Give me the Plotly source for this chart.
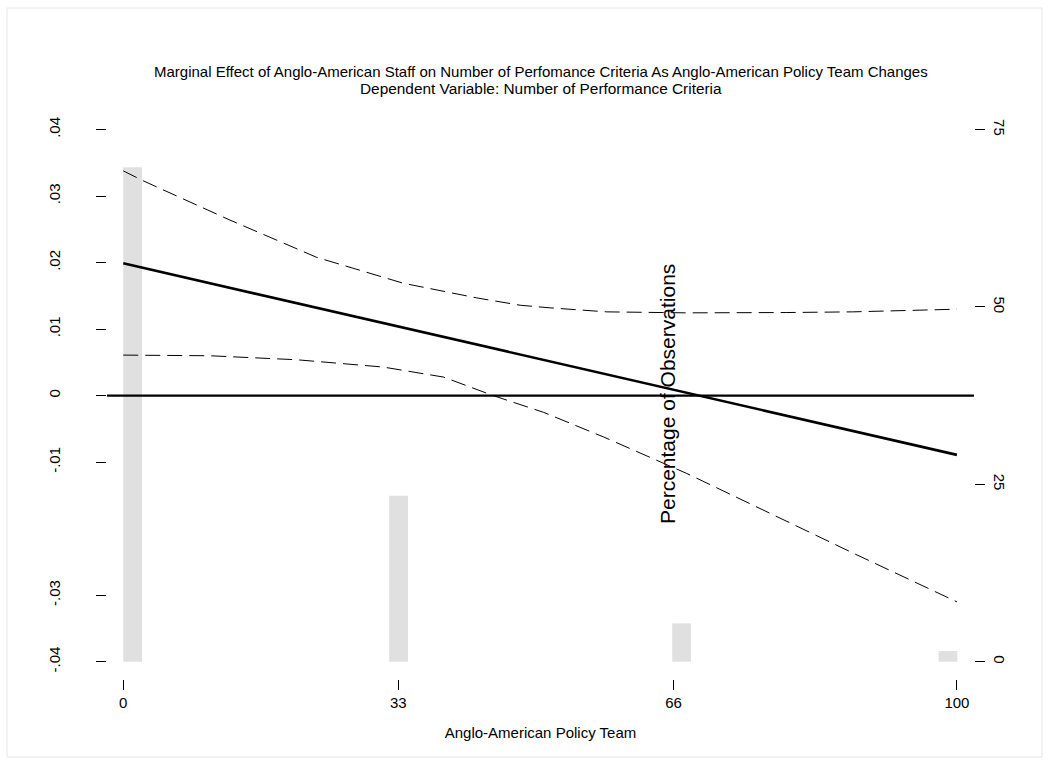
import plotly.graph_objects as go

# ---------------- data ----------------
title_text = "Marginal Effect of Anglo-American Staff on Number of Perfomance Criteria As Anglo-American Policy Team Changes"
subtitle_text = "Dependent Variable: Number of Performance Criteria"
x_title = "Anglo-American Policy Team"
right_title = "Percentage of Observations"

# histogram of observations (percent), bins start / width
bar_left = [0.0, 31.9, 65.85, 97.8]
bar_width = 2.25
bar_pct = [69.7, 23.4, 5.4, 1.5]

# marginal effect (solid line)
me_x = [0, 100]
me_y = [0.0199, -0.0089]

# upper 95% bound (dashed)
up_x = [0, 2.4, 12.8, 23.2, 33.6, 42.4, 47.6, 51.2, 58.0, 67.6, 79.6, 87.5, 100]
up_y = [0.0338, 0.0323, 0.0264, 0.0208, 0.0169, 0.0147, 0.0136, 0.0132, 0.0126, 0.01245, 0.0125, 0.0126, 0.0130]

# lower 95% bound (dashed)
lo_x = [0, 10.4, 20.8, 31.2, 38.4, 44.4, 50.4, 57.6, 67.6, 77.6, 87.6, 100]
lo_y = [0.0061, 0.0060, 0.0054, 0.0043, 0.0028, 0.0000, -0.0025, -0.0062, -0.0117, -0.0177, -0.0237, -0.0310]

x_ticks = [0, 33, 66, 100]
left_ticks = [-0.04, -0.03, -0.01, 0, 0.01, 0.02, 0.03, 0.04]
left_labels = ["-.04", "-.03", "-.01", "0", ".01", ".02", ".03", ".04"]
right_ticks = [0, 25, 50, 75]

# ---------------- figure ----------------
FONT = "Liberation Sans, Arial, sans-serif"
left_range = [-0.0426, 0.0425]
# right axis aligned so that 0 <-> -.04 and 75 <-> .04
right_range = [(v + 0.04) / 0.08 * 75 for v in left_range]

fig = go.Figure()

fig.add_trace(go.Bar(
    x=bar_left, y=bar_pct, width=bar_width, offset=0,
    marker=dict(color="#e0e0e0", line=dict(width=0)),
    yaxis="y", showlegend=False, hoverinfo="skip",
))

fig.add_trace(go.Scatter(
    x=up_x, y=up_y, mode="lines", yaxis="y2",
    line=dict(color="black", width=1, dash="15px,7px"),
    showlegend=False,
))
fig.add_trace(go.Scatter(
    x=lo_x, y=lo_y, mode="lines", yaxis="y2",
    line=dict(color="black", width=1, dash="15px,7px"),
    showlegend=False,
))
fig.add_trace(go.Scatter(
    x=me_x, y=me_y, mode="lines", yaxis="y2",
    line=dict(color="black", width=2.6),
    showlegend=False,
))

# zero reference line across the plot region
fig.add_shape(type="line", xref="x domain", yref="y2", x0=0, x1=1, y0=0, y1=0,
              line=dict(color="black", width=2.2))

# outer graph-region outline
fig.add_shape(type="rect", xref="paper", yref="paper",
              x0=(7 - 107) / 867, x1=(1042 - 107) / 867,
              y0=(679 - 757) / 566, y1=(679 - 8) / 566,
              line=dict(color="#e6e6e6", width=1), layer="below")

fig.add_annotation(text=title_text, xref="paper", yref="paper", x=0.5, y=(679 - 72) / 566,
                   showarrow=False, font=dict(family=FONT, size=15, color="black"),
                   xanchor="center", yanchor="middle")
fig.add_annotation(text=subtitle_text, xref="paper", yref="paper", x=0.5, y=(679 - 89) / 566,
                   showarrow=False, font=dict(family=FONT, size=15.4, color="black"),
                   xanchor="center", yanchor="middle")
fig.add_annotation(text=right_title, xref="paper", yref="paper",
                   x=(667 - 107) / 867, y=(679 - 394) / 566, textangle=-90,
                   showarrow=False, font=dict(family=FONT, size=21, color="black"),
                   xanchor="center", yanchor="middle")

axis_common = dict(showgrid=False, zeroline=False, showline=False, automargin=False,
                   ticks="outside", ticklen=10, tickwidth=1, tickcolor="black",
                   tickfont=dict(family=FONT, size=15, color="black"))

fig.update_layout(
    width=1050, height=771,
    margin=dict(l=107, r=76, t=113, b=92, autoexpand=False),
    paper_bgcolor="white", plot_bgcolor="white",
    font=dict(family=FONT, size=15, color="black"),
    showlegend=False,
    xaxis=dict(range=[-1.95, 102.05], tickvals=x_ticks,
               title=dict(text=x_title, font=dict(family=FONT, size=15, color="black"), standoff=17),
               **axis_common),
    yaxis=dict(range=right_range, tickvals=right_ticks, side="right", tickangle=90,
               ticklabelstandoff=3, **axis_common),
    yaxis2=dict(range=left_range, tickvals=left_ticks, ticktext=left_labels,
                side="left", overlaying="y", tickangle=-90, ticklabelstandoff=30,
                **axis_common),
)

fig.write_html("out.html", config={"displayModeBar": False},
               post_script="document.body.style.margin='0px';")
